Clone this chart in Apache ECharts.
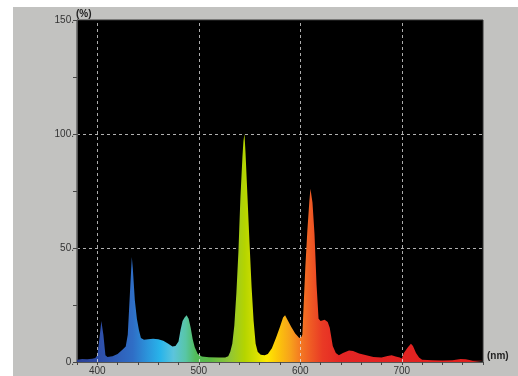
<!DOCTYPE html>
<html>
<head>
<meta charset="utf-8">
<script src="https://cdn.jsdelivr.net/npm/echarts@6/dist/echarts.min.js"></script>
<style>
  html, body { margin: 0; padding: 0; background: #ffffff; }
  #chart { width: 518px; height: 376px; }
</style>
</head>
<body>
<div id="chart"></div>
<script>
// Emission spectrum: wavelength (nm) and relative intensity (%)
const wavelengths = [
  380, 385, 390, 395, 398, 400, 402, 404, 406, 408, 410, 415, 420, 425, 428,
  430, 432, 434, 435, 437, 439, 441, 443, 446, 450, 455, 460, 465, 470, 474,
  477, 480, 482, 484, 486, 488, 490, 492, 494, 496, 499, 503, 510, 520, 526,
  529, 531, 533, 535, 537, 539, 541, 543, 544, 545, 546, 548, 550, 552, 554,
  556, 558, 561, 565, 568, 572, 576, 580, 583, 585, 588, 591, 595, 599, 601,
  602, 603, 605, 607, 609, 610, 612, 614, 616, 618, 620, 624, 627, 629, 632,
  635, 638, 642, 648, 652, 658, 665, 672, 680, 686, 690, 694, 698, 700, 702,
  706, 709, 711, 714, 717, 720, 730, 740, 750, 758, 763, 770, 780
];
const intensity = [
  1.0, 1.3, 1.2, 1.4, 1.8, 3, 10, 18, 12, 3, 2.2, 2.5, 3.5, 5.5, 6.8,
  12, 29, 46, 41, 27, 19, 14, 10.5, 9.8, 10, 10.2, 10, 9.3, 8, 6.8,
  7, 9, 14, 18, 19.5, 20.5, 19, 15, 10, 6.5, 3.5, 2.4, 2.1, 2, 2,
  2.5, 4.5, 8, 16, 30, 48, 72, 90, 97, 100, 92, 72, 52, 33, 18,
  8, 4.5, 3.2, 3, 3.5, 6, 10.5, 15.5, 19.5, 20.5, 18, 15.5, 12.5, 10.5, 11,
  12, 22, 42, 58, 71, 76, 70, 56, 34, 19, 18, 18.5, 17.5, 15, 7,
  4, 3, 4, 5, 4.8, 3.7, 3, 2.2, 2, 2.6, 3, 2.4, 2, 1.5, 4,
  6.5, 8, 7, 4, 2, 1, 0.8, 0.7, 0.8, 1.3, 1.2, 0.6, 0.6
];

// Axis ranges and labelled ticks
const xMin = 380, xMax = 780;
const xLabelTicks = [400, 500, 600, 700];
const yTicks = [0, 50, 100, 150];
const yUnit = '(%)';
const xUnit = '(nm)';

// Spectral colour along the wavelength axis
const spectrumColors = [
  [380, '#2a3f94'], [400, '#2d4ca6'], [410, '#2f55b0'], [435, '#2f6ec6'],
  [450, '#2b96dc'], [462, '#28b4ea'], [475, '#5cc4dc'], [487, '#58c6a6'],
  [497, '#52bb5a'], [510, '#5bb946'], [530, '#8fc53a'], [545, '#b4d400'],
  [557, '#d8e000'], [567, '#ffea00'], [578, '#fcc60a'], [590, '#f7a21b'],
  [600, '#f47a22'], [610, '#ef5b24'], [622, '#e93a25'], [640, '#e42524'],
  [780, '#e0201e']
];

const seriesData = wavelengths.map((w, i) => [w, intensity[i]]);
const stops = spectrumColors.map(([w, c]) => ({ offset: (w - xMin) / (xMax - xMin), color: c }));

const chart = echarts.init(document.getElementById('chart'), null, { renderer: 'canvas' });

const fontFamily = 'Liberation Sans, Arial, sans-serif';
const axisFont = { fontFamily, fontSize: 10, color: '#333333' };

chart.setOption({
  backgroundColor: '#ffffff',
  animation: false,
  graphic: [{
    type: 'rect',
    z: -10,
    shape: { x: 13, y: 7, width: 505, height: 369 },
    style: { fill: '#c2c2c0' },
    silent: true
  }, {
    // unit caption above the intensity axis
    type: 'text',
    left: 76, top: 9,
    silent: true,
    style: { text: yUnit, fontFamily, fontSize: 10, fontWeight: 'bold', fill: '#222222' }
  }],
  grid: {
    left: 77, top: 20, width: 406, height: 342,
    show: true, backgroundColor: '#000000', borderColor: '#333333', borderWidth: 1
  },
  xAxis: {
    type: 'value',
    min: xMin, max: xMax, interval: 20,
    name: xUnit,
    nameLocation: 'end',
    nameGap: 4,
    nameTextStyle: { fontFamily, fontSize: 10, fontWeight: 'bold', color: '#222', verticalAlign: 'bottom', padding: [0, 0, 1, 0] },
    axisLine: { show: true, lineStyle: { color: '#555555', width: 1 } },
    axisTick: { show: true, inside: false, length: 3, lineStyle: { color: '#444444' } },
    axisLabel: {
      ...axisFont, margin: 4,
      formatter: v => (xLabelTicks.indexOf(v) >= 0 ? String(v) : '')
    },
    splitLine: { show: false }
  },
  yAxis: {
    type: 'value',
    min: yTicks[0], max: yTicks[yTicks.length - 1], interval: 50,
    axisLine: { show: true, lineStyle: { color: '#555555', width: 1 } },
    axisTick: { show: true, inside: false, length: 4, lineStyle: { color: '#444444' } },
    minorTick: { show: true, splitNumber: 2, length: 4, lineStyle: { color: '#444444' } },
    axisLabel: { ...axisFont, margin: 3, formatter: v => v + '.' },
    splitLine: {
      show: true, showMinLine: false, showMaxLine: false,
      lineStyle: { color: 'rgba(220,220,220,0.8)', type: [3, 3], width: 1 }
    }
  },
  series: [{
    type: 'line',
    data: seriesData,
    showSymbol: false,
    symbol: 'none',
    lineStyle: { width: 0 },
    areaStyle: {
      opacity: 1,
      color: { type: 'linear', x: 0, y: 0, x2: 1, y2: 0, colorStops: stops }
    },
    markLine: {
      silent: true,
      symbol: 'none',
      label: { show: false },
      lineStyle: { color: 'rgba(230,230,230,0.75)', type: [3, 3], width: 1 },
      emphasis: { disabled: true },
      data: xLabelTicks.map(v => ({ xAxis: v }))
    }
  }]
});
</script>
</body>
</html>
